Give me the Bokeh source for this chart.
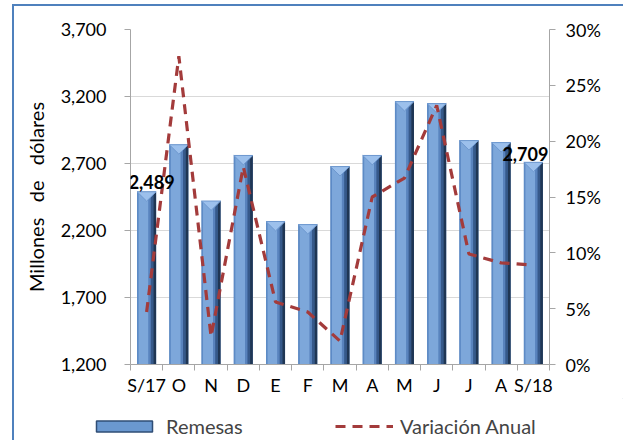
import numpy as np
from bokeh.plotting import figure
from bokeh.layouts import column
from bokeh.models import (Range1d, LinearAxis, FixedTicker,
                          NumeralTickFormatter, Legend, LegendItem, Label)
from bokeh.embed import file_html
from bokeh.resources import INLINE

# ---- data ----
months = ["S/17", "O", "N", "D", "E", "F", "M", "A", "M", "J", "J", "A", "S/18"]
remesas = [2489, 2840, 2420, 2760, 2267, 2244, 2677, 2760, 3162, 3147, 2871, 2856, 2709]
variacion = [0.047, 0.276, 0.025, 0.177, 0.056, 0.047, 0.021, 0.150, 0.167, 0.232, 0.099, 0.091, 0.089]
left_ticks = [1200, 1700, 2200, 2700, 3200, 3700]
right_ticks = [0.0, 0.05, 0.10, 0.15, 0.20, 0.25, 0.30]

FONT = "Lato"
n = len(months)
xs = np.arange(n) + 0.5
tops = np.array(remesas, dtype=float)
BASE = 1200
W = 0.59
BAR_COL = "#4F7DB9"
LINE_COL = "#A33B3B"

p = figure(width=609, height=392, output_backend="svg", toolbar_location=None,
           x_range=Range1d(0, n), y_range=Range1d(1200, 3700),
           min_border_left=116, min_border_right=74, min_border_top=23, min_border_bottom=34)
p.outline_line_color = None

# ---- bars with cylinder-like shading ----
base = p.vbar(x=xs, top=tops, bottom=BASE, width=W, fill_color=BAR_COL, line_color=None)
strips = [(-0.295, -0.25, "#5D8BC6"), (-0.25, 0.06, "#7DA7DA"), (0.06, 0.13, "#5983BD"),
          (0.13, 0.21, "#36598A"), (0.21, 0.295, "#1F3654")]
for a, b, c in strips:
    p.vbar(x=xs + (a + b) / 2, top=tops, bottom=BASE, width=(b - a), fill_color=c, line_color=None)
tri_h = 70
p.patches(xs=[[x - W / 2, x + W / 2, x] for x in xs],
          ys=[[t, t, t - tri_h] for t in tops],
          fill_color="#9CC0EC", line_color="#6E98CF", line_width=1)

# ---- secondary axis line ----
p.extra_y_ranges = {"pct": Range1d(0, 0.30)}
line = p.line(xs, variacion, y_range_name="pct", line_color=LINE_COL, line_width=3.2,
              line_dash="10 7")

# ---- data labels ----
p.add_layout(Label(x=xs[0], y=tops[0], text=f"{remesas[0]:,}", text_font=FONT,
                   text_font_style="bold", text_font_size="18px", text_align="center",
                   text_color="black", text_baseline="bottom", x_offset=5, y_offset=3))
p.add_layout(Label(x=xs[-1], y=tops[-1], text=f"{remesas[-1]:,}", text_font=FONT,
                   text_font_style="bold", text_font_size="18px", text_align="right",
                   text_color="black", text_baseline="bottom", x_offset=15, y_offset=1))

# ---- axes ----
ax_col = "#A6A6A6"
p.yaxis.ticker = FixedTicker(ticks=left_ticks)
p.yaxis.formatter = NumeralTickFormatter(format="0,0")
p.yaxis.axis_label = "Millones \u00a0 de \u00a0 dólares"
for ax in p.yaxis:
    ax.axis_line_color = ax_col
    ax.major_tick_line_color = ax_col
    ax.major_tick_out = 6
    ax.major_tick_in = 0
    ax.minor_tick_line_color = None
    ax.major_label_text_font = FONT
    ax.major_label_text_font_size = "18px"
    ax.major_label_text_color = "black"
    ax.major_label_standoff = 18
    ax.axis_label_text_font = FONT
    ax.axis_label_text_font_size = "20px"
    ax.axis_label_text_font_style = "normal"
    ax.axis_label_text_color = "black"
    ax.axis_label_standoff = 10

ra = LinearAxis(y_range_name="pct", ticker=FixedTicker(ticks=right_ticks),
                formatter=NumeralTickFormatter(format="0%"))
ra.axis_line_color = ax_col
ra.major_tick_line_color = ax_col
ra.major_tick_out = 6
ra.major_tick_in = 0
ra.minor_tick_line_color = None
ra.major_label_text_font = FONT
ra.major_label_text_font_size = "18px"
ra.major_label_text_color = "black"
ra.major_label_standoff = 10
p.add_layout(ra, "right")

xax = p.xaxis[0]
xax.ticker = FixedTicker(ticks=list(xs), minor_ticks=list(range(n + 1)))
xax.major_label_overrides = {float(x): m for x, m in zip(xs, months)}
xax.axis_line_color = ax_col
xax.major_tick_line_color = None
xax.major_tick_out = 0
xax.minor_tick_line_color = ax_col
xax.minor_tick_out = 6
xax.minor_tick_in = 0
xax.major_label_text_font = FONT
xax.major_label_text_font_size = "18px"
xax.major_label_text_color = "black"
xax.major_label_standoff = 3

p.xgrid.grid_line_color = None
p.ygrid.ticker = FixedTicker(ticks=left_ticks)
p.ygrid.grid_line_color = "#D9D9D9"

# ---- legend (separate strip below the chart) ----
lf = figure(width=609, height=42, output_backend="svg", toolbar_location=None,
            x_range=Range1d(0, 1), y_range=Range1d(0, 1),
            x_axis_location=None, y_axis_location=None,
            min_border_left=0, min_border_right=0, min_border_top=0, min_border_bottom=0)
if "frame_align" in lf.properties():
    lf.frame_align = False
    p.frame_align = False
lf.grid.visible = False
lf.outline_line_color = None
# legend-only renderers, placed outside the visible range
r_bar = lf.vbar(x=[5], top=[5], bottom=[4], width=0.5, fill_color="#6A98D0",
                line_color="#2F4D75", line_width=1.5)
r_line = lf.line(x=[5, 6], y=[5, 5], line_color=LINE_COL, line_width=3.2, line_dash="10 7")
common = dict(orientation="horizontal", glyph_height=14, label_standoff=7,
              label_text_font=FONT, label_text_font_size="20px",
              border_line_color=None, background_fill_alpha=0, padding=2, margin=0)
leg1 = Legend(items=[LegendItem(label="Remesas", renderers=[r_bar])],
              location=(75, 2), glyph_width=70, **common)
leg2 = Legend(items=[LegendItem(label="Variación Anual", renderers=[r_line])],
              location=(321, 2), glyph_width=58, **common)
lf.add_layout(leg1, "center")
lf.add_layout(leg2, "center")

layout = column(p, lf, spacing=0,
                styles={"margin-left": "12px", "margin-top": "4px",
                        "border-left": "2px solid #4F81BD", "border-top": "2px solid #4F81BD"})

open("out.html", "w").write(file_html(layout, INLINE))
